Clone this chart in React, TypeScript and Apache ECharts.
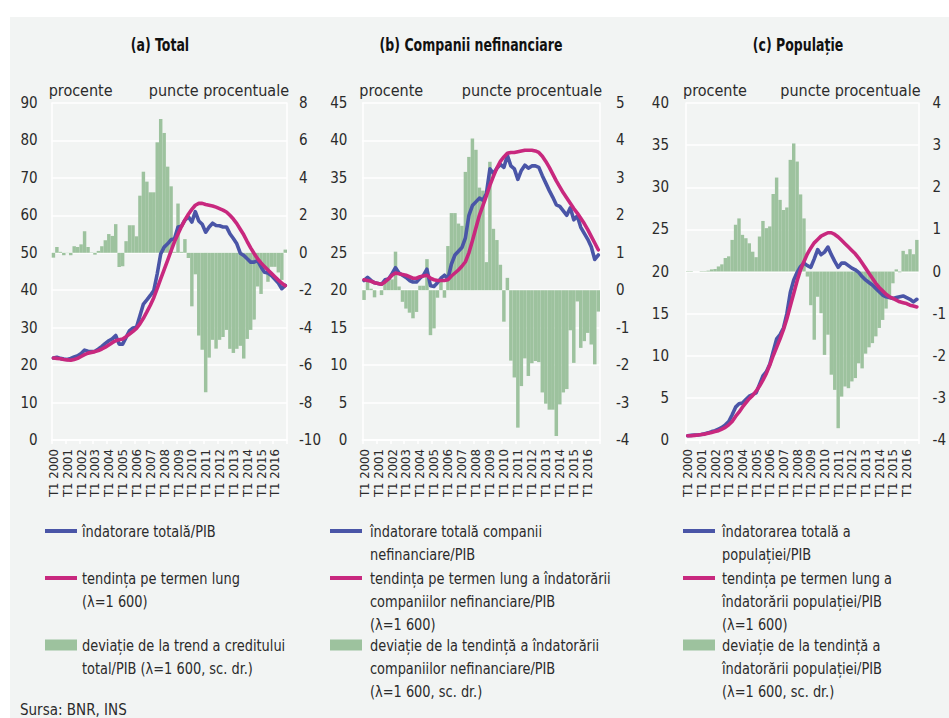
import React, { useEffect, useRef } from "react";
import * as echarts from "echarts";

// ---------- data ----------
const YEARS = [2000, 2001, 2002, 2003, 2004, 2005, 2006, 2007, 2008, 2009, 2010, 2011, 2012, 2013, 2014, 2015, 2016];
const QUARTERS = ["T1", "T2", "T3", "T4"];
const CATEGORIES = YEARS.flatMap((y) => QUARTERS.map((q) => `${q} ${y}`));

// (a) Total
const A_GAP = [-0.26, 0.31, 0.05, -0.13, -0.02, -0.13, 0.35, 0.31, 0.45, 1.15, 0.31, 0.02, -0.1, 0.1, 0.35, 0.67, 1.0, 0.9, 1.53, -0.76, -0.72, 0.62, 1.47, 1.47, 0.88, 3.05, 4.33, 3.8, 3.23, 3.23, 5.9, 7.15, 6.4, 4.6, 3.55, 0.05, 2.63, 0.05, 0.73, -0.28, -2.86, -1.15, -4.42, -5.18, -7.45, -5.6, -4.65, -5.12, -4.65, -4.5, -4.12, -5.13, -5.35, -5.13, -4.97, -5.65, -4.6, -4.12, -3.57, -1.8, -2.2, -0.7, -1.55, -0.75, -0.75, -1.05, -1.45, 0.17];
const A_DEBT = [21.9, 22.1, 21.8, 21.6, 21.5, 21.8, 22.2, 22.5, 23.1, 24.0, 23.7, 23.6, 23.7, 24.3, 25.0, 25.8, 26.5, 27.0, 27.9, 25.6, 25.6, 27.4, 29.2, 29.9, 30.1, 33.2, 36.3, 37.4, 38.6, 39.9, 44.4, 49.7, 51.5, 52.4, 53.5, 53.8, 56.9, 57.1, 58.7, 59.6, 58.2, 61.0, 58.5, 57.6, 55.5, 56.9, 57.9, 57.3, 57.2, 56.9, 56.9, 55.1, 53.8, 52.4, 49.9, 49.3, 48.4, 47.5, 47.5, 47.9, 46.2, 44.8, 44.6, 43.9, 42.9, 41.9, 40.4, 41.3];
const A_TREND = [21.9, 21.8, 21.7, 21.5, 21.4, 21.3, 21.5, 21.8, 22.3, 22.8, 23.2, 23.4, 23.6, 23.9, 24.3, 24.8, 25.4, 26.0, 26.5, 26.8, 27.0, 27.6, 28.3, 29.0, 29.8, 31.0, 32.5, 34.2, 36.0, 38.0, 40.5, 43.0, 45.5, 48.0, 50.5, 53.0, 55.0, 57.0, 58.8, 60.3, 61.6, 62.7, 63.2, 63.2, 62.9, 62.7, 62.5, 62.2, 61.8, 61.4, 60.9, 60.0, 59.0, 57.8, 56.3, 54.8, 53.0, 51.3, 49.8, 48.4, 47.3, 46.3, 45.4, 44.5, 43.6, 42.7, 41.9, 41.2];

// (b) Companii nefinanciare
const B_GAP = [-0.26, 0.23, 0.04, -0.19, 0.0, -0.13, 0.2, 0.25, 0.29, 1.03, 0.1, -0.31, -0.49, -0.6, -0.75, -0.58, 0.12, 0.12, 0.83, -1.2, -1.02, -0.2, 0.25, -0.2, 1.18, 2.06, 2.06, 1.78, 1.72, 3.16, 3.56, 4.05, 3.75, 2.74, 2.66, 0.75, 3.43, 1.64, 1.34, 0.68, -0.84, 0.33, -1.88, -2.33, -3.67, -2.56, -1.82, -2.29, -1.95, -1.89, -1.92, -2.73, -3.03, -3.19, -3.19, -3.89, -3.05, -2.73, -2.64, -1.07, -1.94, -0.3, -1.54, -1.36, -1.14, -1.45, -1.98, -0.57];
const B_DEBT = [21.3, 21.7, 21.3, 21.0, 20.9, 20.8, 21.4, 21.5, 22.2, 23.0, 22.3, 22.0, 21.7, 21.3, 21.1, 21.1, 21.6, 22.0, 22.8, 20.6, 20.5, 21.0, 21.6, 22.0, 21.5, 23.5, 24.7, 25.2, 25.7, 27.0, 30.0, 31.3, 31.8, 32.3, 32.0, 32.9, 36.2, 35.6, 36.3, 36.8, 36.4, 38.0, 36.6, 36.2, 34.8, 36.0, 36.7, 36.3, 36.6, 36.6, 36.4, 35.3, 34.3, 33.3, 32.4, 31.4, 31.2, 30.6, 30.0, 31.0, 29.4, 29.9, 28.4, 27.6, 26.8, 25.8, 24.1, 24.7];
const B_TREND = [21.4, 21.3, 21.2, 21.0, 20.9, 20.8, 21.1, 21.5, 22.0, 22.3, 22.2, 22.1, 22.0, 21.8, 21.6, 21.6, 21.8, 21.9, 22.0, 21.6, 21.4, 21.3, 21.3, 21.3, 21.4, 21.9, 22.3, 22.7, 23.2, 23.8, 25.0, 26.6, 28.3, 30.0, 31.3, 32.6, 34.0, 35.2, 36.3, 37.2, 37.8, 38.3, 38.4, 38.4, 38.5, 38.6, 38.7, 38.7, 38.7, 38.6, 38.4, 37.9, 37.2, 36.4, 35.5, 34.6, 33.8, 33.0, 32.3, 31.6, 30.9, 30.3, 29.6, 28.9, 28.1, 27.2, 26.3, 25.4];

// (c) Populație
const C_GAP = [-0.01, -0.01, 0, 0, 0.01, 0.01, 0.02, 0.05, 0.06, 0.12, 0.17, 0.32, 0.36, 0.75, 1.11, 1.26, 0.87, 0.79, 0.67, 0.47, 0.34, 0.83, 1.2, 1.03, 1.07, 1.84, 2.23, 1.7, 1.46, 1.52, 2.65, 3.04, 2.61, 1.83, 1.26, -0.12, -0.8, -1.62, -0.6, -0.99, -1.98, -1.5, -2.45, -2.81, -3.72, -2.97, -2.73, -2.77, -2.61, -2.53, -2.18, -2.3, -1.95, -1.8, -1.7, -1.54, -1.34, -1.15, -0.88, -0.66, -0.28, 0.05, -0.02, 0.49, 0.41, 0.53, 0.41, 0.75];
const C_DEBT = [0.5, 0.55, 0.6, 0.6, 0.65, 0.75, 0.85, 1.0, 1.1, 1.3, 1.5, 1.8, 2.2, 3.0, 3.9, 4.3, 4.4, 4.8, 5.2, 5.4, 5.6, 6.6, 7.6, 8.1, 9.0, 10.5, 12.0, 12.5, 13.3, 15.0, 17.5, 19.0, 19.9, 20.6, 21.0, 20.7, 20.5, 21.5, 22.6, 22.0, 22.3, 22.9, 22.0, 21.2, 20.5, 21.0, 21.0, 20.7, 20.4, 20.2, 19.9, 19.4, 19.0, 18.7, 18.4, 18.0, 17.6, 17.2, 17.0, 16.9, 16.8, 16.9, 17.0, 17.1, 16.9, 16.7, 16.4, 16.7];
const C_TREND = [0.5, 0.5, 0.55, 0.6, 0.65, 0.7, 0.8, 0.9, 1.0, 1.1, 1.3, 1.5, 1.8, 2.2, 2.8, 3.3, 3.9, 4.4, 4.9, 5.3, 5.8, 6.4, 7.1, 7.9, 8.9, 10.0, 11.0, 12.0, 13.1, 14.4, 15.9, 17.4, 18.9, 20.2, 21.2, 22.1, 22.8, 23.4, 23.8, 24.2, 24.4, 24.6, 24.6, 24.4, 24.1, 23.7, 23.3, 22.9, 22.5, 22.1, 21.6, 21.0, 20.4, 19.8, 19.2, 18.6, 18.1, 17.7, 17.3, 17.0, 16.8, 16.6, 16.4, 16.3, 16.2, 16.0, 15.9, 15.8];

const TITLES = ["(a) Total", "(b) Companii nefinanciare", "(c) Populație"];
const LEFT_SCALES = [
  { min: 0, max: 90, interval: 10 },
  { min: 0, max: 45, interval: 5 },
  { min: 0, max: 40, interval: 5 },
];
const RIGHT_SCALES = [
  { min: -10, max: 8, interval: 2 },
  { min: -4, max: 5, interval: 1 },
  { min: -4, max: 4, interval: 1 },
];
const LEFT_UNIT = "procente";
const RIGHT_UNIT = "puncte procentuale";

const LEGEND_A = [
  "îndatorare totală/PIB",
  "tendința pe termen lung\n(λ=1 600)",
  "deviație de la trend a creditului\ntotal/PIB (λ=1 600, sc. dr.)",
];
const LEGEND_B = [
  "îndatorare totală companii\nnefinanciare/PIB",
  "tendința pe termen lung a îndatorării\ncompaniilor nefinanciare/PIB\n(λ=1 600)",
  "deviație de la tendință a îndatorării\ncompaniilor nefinanciare/PIB\n(λ=1 600, sc. dr.)",
];
const LEGEND_C = [
  "îndatorarea totală a\npopulației/PIB",
  "tendința pe termen lung a\nîndatorării populației/PIB\n(λ=1 600)",
  "deviație de la tendință a\nîndatorării populației/PIB\n(λ=1 600, sc. dr.)",
];
const SOURCE = "Sursa: BNR, INS";

const PANEL_DATA = [
  { gap: A_GAP, debt: A_DEBT, trend: A_TREND, legend: LEGEND_A },
  { gap: B_GAP, debt: B_DEBT, trend: B_TREND, legend: LEGEND_B },
  { gap: C_GAP, debt: C_DEBT, trend: C_TREND, legend: LEGEND_C },
];

// ---------- layout / style ----------
const FONT = "'Liberation Sans Narrow', 'DejaVu Sans Condensed', 'Noto Sans', sans-serif";
const BG = "#f2f4f3";
const BLUE = "#4a55a7";
const MAGENTA = "#c8287e";
const GREEN = "#9dc29e";
const TEXT = "#2b2b2b";
const GRID_TOP = 103;
const GRID_H = 337;

const LAYOUT = [
  { left: 51.7, width: 235.3, lm: 14, rm: 12, titleX: 160, iconX: 45, textX: 82 },
  { left: 362.3, width: 237.7, lm: 15, rm: 16, titleX: 471, iconX: 330, textX: 370 },
  { left: 686, width: 238, lm: 17, rm: 14, titleX: 798, iconX: 683, textX: 722 },
];
const LEGEND_ROWS = [531, 578, 645];
const LINE_H = 23;

function buildOption() {
  const grid: any[] = [];
  const xAxis: any[] = [];
  const yAxis: any[] = [];
  const series: any[] = [];
  const graphic: any[] = [
    { type: "rect", z: -10, shape: { x: 10, y: 17, width: 939, height: 701 }, style: { fill: BG } },
  ];

  LAYOUT.forEach((L, p) => {
    const D = PANEL_DATA[p];
    grid.push({ left: L.left, top: GRID_TOP, width: L.width, height: GRID_H, containLabel: false });
    xAxis.push({
      type: "category",
      gridIndex: p,
      data: CATEGORIES,
      boundaryGap: true,
      axisLine: { show: true, lineStyle: { color: "#ffffff", width: 1.5 } },
      axisTick: { show: true, interval: 3, length: 4, lineStyle: { color: "#ffffff", width: 1.5 } },
      axisLabel: {
        interval: 3,
        rotate: 90,
        fontSize: 13,
        fontFamily: FONT,
        color: TEXT,
        margin: 9,
        hideOverlap: false,
      },
      splitLine: { show: false },
    });
    yAxis.push({
      type: "value",
      gridIndex: p,
      position: "left",
      ...LEFT_SCALES[p],
      name: LEFT_UNIT,
      nameLocation: "end",
      nameGap: 5,
      nameTextStyle: { align: "left", fontSize: 16, fontFamily: FONT, color: TEXT, padding: [0, 0, 0, -3] },
      axisLine: { show: true, lineStyle: { color: "#ffffff", width: 1.5 } },
      axisTick: { show: false },
      axisLabel: { fontSize: 15, fontFamily: FONT, color: TEXT, margin: L.lm },
      splitLine: { show: true, lineStyle: { color: "#ffffff", width: 1.5 } },
    });
    yAxis.push({
      type: "value",
      gridIndex: p,
      position: "right",
      ...RIGHT_SCALES[p],
      name: RIGHT_UNIT,
      nameLocation: "end",
      nameGap: 5,
      nameTextStyle: { align: "right", fontSize: 16, fontFamily: FONT, color: TEXT, padding: [0, -2, 0, 0] },
      axisLine: { show: true, lineStyle: { color: "#ffffff", width: 1.5 } },
      axisTick: { show: false },
      axisLabel: { fontSize: 15, fontFamily: FONT, color: TEXT, margin: L.rm },
      splitLine: { show: false },
    });
    const names = D.legend.map((s) => s.replace(/\n/g, " "));
    series.push({
      name: names[2],
      type: "bar",
      xAxisIndex: p,
      yAxisIndex: 2 * p + 1,
      data: D.gap,
      barCategoryGap: "0%",
      itemStyle: { color: GREEN },
      z: 1,
    });
    series.push({
      name: names[0],
      type: "line",
      xAxisIndex: p,
      yAxisIndex: 2 * p,
      data: D.debt,
      showSymbol: false,
      lineStyle: { color: BLUE, width: 3.6, cap: "round", join: "round" },
      itemStyle: { color: BLUE },
      z: 3,
    });
    series.push({
      name: names[1],
      type: "line",
      xAxisIndex: p,
      yAxisIndex: 2 * p,
      data: D.trend,
      showSymbol: false,
      lineStyle: { color: MAGENTA, width: 3.6, cap: "round", join: "round" },
      itemStyle: { color: MAGENTA },
      z: 4,
    });

    // title (condensed by horizontal scaling)
    graphic.push({
      type: "text",
      x: L.titleX,
      y: 46,
      scaleX: 0.82,
      style: {
        text: TITLES[p],
        fill: "#111",
        font: `bold 17px ${FONT}`,
        align: "center",
        verticalAlign: "middle",
      },
    });

    // legend
    D.legend.forEach((txt, k) => {
      const ry = LEGEND_ROWS[k];
      if (k < 2) {
        graphic.push({
          type: "line",
          shape: { x1: L.iconX, y1: ry, x2: L.iconX + 32, y2: ry },
          style: { stroke: k === 0 ? BLUE : MAGENTA, lineWidth: 4 },
        });
      } else {
        graphic.push({
          type: "rect",
          shape: { x: L.iconX, y: ry - 5.5, width: 32, height: 11 },
          style: { fill: GREEN },
        });
      }
      graphic.push({
        type: "text",
        x: L.textX,
        y: ry - LINE_H / 2,
        scaleX: 0.96,
        style: {
          text: txt,
          fill: TEXT,
          font: `15px ${FONT}`,
          lineHeight: LINE_H,
          verticalAlign: "top",
        },
      });
    });
  });

  graphic.push({
    type: "text",
    x: 20,
    y: 710,
    style: { text: SOURCE, fill: TEXT, font: `15px ${FONT}`, verticalAlign: "middle" },
  });

  return {
    animation: false,
    backgroundColor: "#ffffff",
    grid,
    xAxis,
    yAxis,
    series,
    graphic,
  };
}

export default function App() {
  const ref = useRef<HTMLDivElement>(null);
  useEffect(() => {
    if (!ref.current) return;
    const chart = echarts.init(ref.current, undefined, { renderer: "svg" });
    chart.setOption(buildOption() as any);
    return () => chart.dispose();
  }, []);
  return (
    <div
      ref={ref}
      style={{ position: "absolute", left: 0, top: 0, width: 949, height: 718 }}
    />
  );
}
